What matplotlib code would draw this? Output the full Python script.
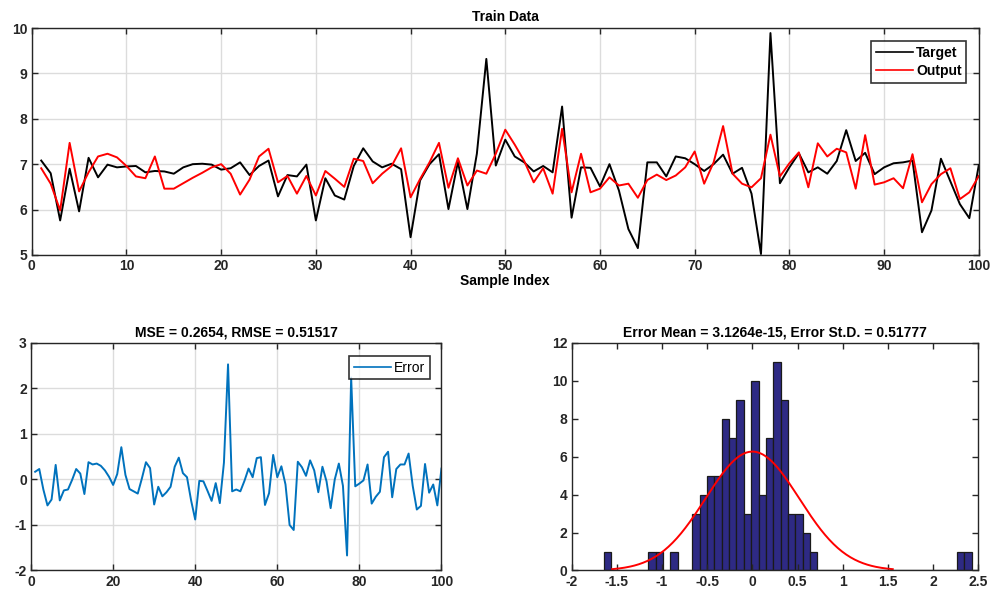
import numpy as np
import matplotlib
matplotlib.use("Agg")
import matplotlib.pyplot as plt

plt.rcParams['font.family'] = ['Liberation Sans', 'DejaVu Sans']
plt.rcParams['font.weight'] = 'bold'
plt.rcParams['font.size'] = 10
plt.rcParams['axes.unicode_minus'] = False

# datos
muestras = np.arange(1, 101)
target = [7.08, 6.80, 5.76, 6.90, 5.96, 7.14, 6.71, 6.99, 6.93, 6.95,
          6.96, 6.82, 6.85, 6.84, 6.79, 6.93, 7.00, 7.01, 6.99, 6.88,
          6.91, 7.04, 6.76, 6.96, 7.08, 6.29, 6.76, 6.73, 6.99, 5.76,
          6.69, 6.31, 6.22, 6.96, 7.35, 7.06, 6.93, 7.01, 6.89, 5.39,
          6.64, 7.00, 7.22, 6.01, 7.05, 6.01, 7.23, 9.32, 6.97, 7.54,
          7.17, 7.04, 6.84, 6.96, 6.82, 8.27, 5.82, 6.93, 6.92, 6.51,
          7.00, 6.42, 5.57, 5.15, 7.04, 7.04, 6.73, 7.17, 7.13, 7.00,
          6.85, 7.00, 7.21, 6.79, 6.92, 6.35, 5.02, 9.89, 6.58, 6.93,
          7.24, 6.82, 6.93, 6.79, 7.07, 7.75, 7.07, 7.25, 6.78, 6.93,
          7.02, 7.04, 7.08, 5.50, 5.98, 7.12, 6.62, 6.12, 5.81, 6.98]
output = [6.91, 6.57, 5.98, 7.47, 6.40, 6.82, 7.17, 7.23, 7.15, 6.96,
          6.73, 6.69, 7.17, 6.46, 6.46, 6.58, 6.70, 6.81, 6.93, 7.00,
          6.79, 6.33, 6.66, 7.17, 7.34, 6.60, 6.74, 6.35, 6.74, 6.31,
          6.85, 6.68, 6.50, 7.12, 7.07, 6.58, 6.79, 6.96, 7.35, 6.27,
          6.67, 7.04, 7.47, 6.48, 7.13, 6.53, 6.86, 6.79, 7.23, 7.76,
          7.43, 7.07, 6.60, 6.91, 6.35, 7.78, 6.38, 7.23, 6.38, 6.46,
          6.71, 6.53, 6.57, 6.26, 6.65, 6.77, 6.65, 6.75, 6.93, 7.28,
          6.57, 7.04, 7.84, 6.79, 6.57, 6.49, 6.69, 7.65, 6.73, 7.02,
          7.26, 6.49, 7.46, 7.17, 7.34, 7.26, 6.46, 7.64, 6.55, 6.60,
          6.69, 6.47, 7.22, 6.16, 6.56, 6.78, 6.91, 6.23, 6.38, 6.74]

# histograma (50 bins)
hist_inicio = -1.642
hist_ancho = 0.0814
hist_cuentas = [1, 0, 0, 0, 0, 0, 1, 1, 0, 1,
                0, 0, 3, 4, 5, 5, 8, 7, 9, 3,
                10, 4, 7, 11, 9, 3, 3, 2, 1, 0,
                0, 0, 0, 0, 0, 0, 0, 0, 0, 0,
                0, 0, 0, 0, 0, 0, 0, 0, 1, 1]
error_media = 3.1264e-15
error_std = 0.51777
mse = 0.2654
rmse = 0.51517

error = np.array(target) - np.array(output)

gris = '#262626'
rejilla = '#dcdcdc'


def estilo(ax, grid=True):
    ax.tick_params(direction='in', top=True, right=True, length=4,
                   width=1, colors=gris, labelsize=10, pad=3)
    for lab in ax.get_xticklabels() + ax.get_yticklabels():
        lab.set_fontweight('bold')
    for s in ax.spines.values():
        s.set_color(gris)
        s.set_linewidth(1.0)
    if grid:
        ax.grid(True, color=rejilla, linewidth=1.0)
        ax.set_axisbelow(True)


fig = plt.figure(figsize=(9.92, 5.97), dpi=100)

# Train data
ax1 = fig.add_axes([0.032, 0.573, 0.9547, 0.380])
ax1.plot(muestras, target, color='black', lw=1.4, label='Target')
ax1.plot(muestras, output, color='red', lw=1.4, label='Output')
ax1.set_xlim(0, 100)
ax1.set_ylim(5, 10)
ax1.set_xticks(range(0, 101, 10))
ax1.set_yticks(range(5, 11))
ax1.set_title('Train Data', fontsize=10, fontweight='bold', pad=5)
ax1.set_xlabel('Sample Index', fontsize=10, fontweight='bold', labelpad=1)
estilo(ax1)
leg = ax1.legend(loc='upper right', fancybox=False, edgecolor='black',
                 fontsize=10, handlelength=2.7, borderpad=0.35, labelspacing=0.3,
                 handletextpad=0.2, borderaxespad=0, bbox_to_anchor=(0.987, 0.944))
leg.get_frame().set_linewidth(1.2)
for t in leg.get_texts():
    t.set_fontweight('bold')
for h in leg.get_lines():
    h.set_linewidth(1.2)

# Error
ax2 = fig.add_axes([0.0313, 0.0444, 0.4137, 0.3811])
ax2.plot(muestras, error, color='#0072BD', lw=1.4, label='Error')
ax2.set_xlim(0, 100)
ax2.set_ylim(-2, 3)
ax2.set_xticks(range(0, 101, 20))
ax2.set_yticks(range(-2, 4))
ax2.set_title(f'MSE = {mse}, RMSE = {rmse}', fontsize=10, fontweight='bold', pad=5)
estilo(ax2)
leg2 = ax2.legend(loc='upper right', fancybox=False, edgecolor='black',
                  prop={'size': 10, 'weight': 'normal'}, handlelength=2.7,
                  borderpad=0.35, handletextpad=0.2, borderaxespad=0,
                  bbox_to_anchor=(0.972, 0.944))
leg2.get_frame().set_linewidth(1.2)
for h in leg2.get_lines():
    h.set_linewidth(1.2)

# Histograma
ax3 = fig.add_axes([0.5763, 0.0444, 0.4099, 0.3811])
bordes = hist_inicio + hist_ancho * np.arange(len(hist_cuentas))
ax3.bar(bordes, hist_cuentas, width=hist_ancho, align='edge',
        color='#2e2a84', edgecolor='#1a1a1a', linewidth=0.9)
xs = np.linspace(error_media - 3 * error_std, error_media + 3 * error_std, 200)
pdf = np.exp(-0.5 * ((xs - error_media) / error_std) ** 2) / (error_std * np.sqrt(2 * np.pi))
ax3.plot(xs, pdf * sum(hist_cuentas) * hist_ancho, color='red', lw=1.4)
ax3.set_xlim(-2, 2.5)
ax3.set_ylim(0, 12)
ax3.set_xticks(np.arange(-2, 2.51, 0.5))
ax3.set_xticklabels(['-2', '-1.5', '-1', '-0.5', '0', '0.5', '1', '1.5', '2', '2.5'])
ax3.set_yticks(range(0, 13, 2))
ax3.set_title(f'Error Mean = {error_media}, Error St.D. = {error_std}',
              fontsize=10, fontweight='bold', pad=5)
estilo(ax3, grid=False)

fig.savefig('out.png', dpi=100, facecolor='white')
